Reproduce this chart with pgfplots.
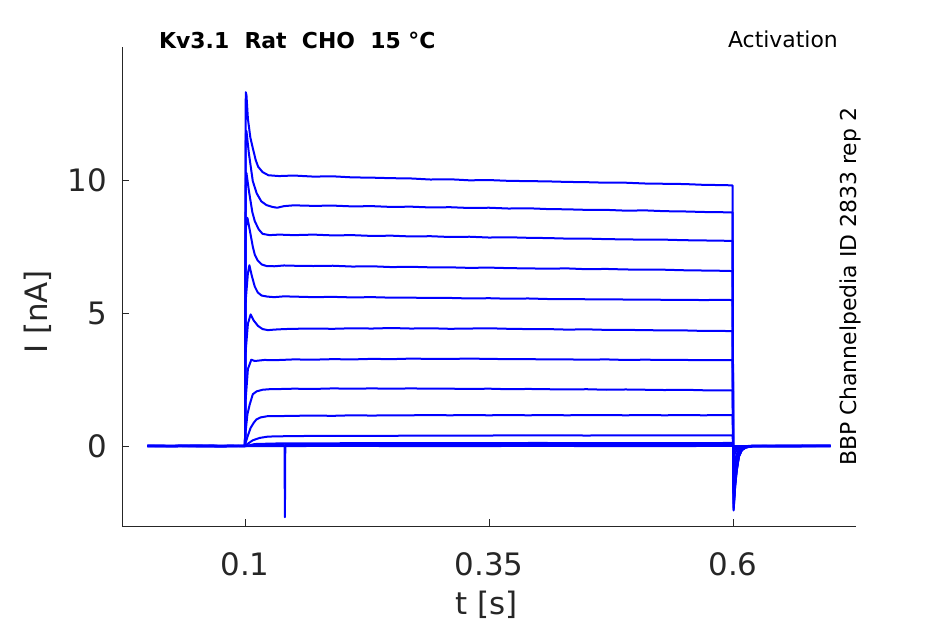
\documentclass[border=0pt]{standalone}
\usepackage{fontspec}
\setmainfont{DejaVu Sans}
\usepackage{pgfplots}
\pgfplotsset{compat=1.18}
\definecolor{axgray}{HTML}{262626}
\definecolor{trblue}{RGB}{0,0,255}
\tikzset{tr/.style={draw=trblue, line width=2bp, mark=none, line join=round}}
\begin{document}
\begin{tikzpicture}
\useasboundingbox (-122bp,-98bp) rectangle (823bp,526bp);
\begin{axis}[
  scale only axis, width=734bp, height=479bp,
  xmin=-0.026, xmax=0.726, ymin=-3, ymax=15,
  axis x line=bottom, axis y line=left,
  axis line style={-, axgray, line width=0.8bp},
  tick align=inside, major tick length=7bp,
  tick style={axgray, line width=0.8bp},
  xtick={0.1,0.35,0.6}, xticklabels={0.1,0.35,0.6},
  ytick={0,5,10}, yticklabels={0,5,10},
  /pgf/number format/assume math mode=true,
  ticklabel style={font=\fontsize{31}{36}\selectfont, text=axgray},
  xticklabel style={inner sep=0pt, anchor=north, yshift=-26bp},
  yticklabel style={inner sep=0pt, anchor=east, xshift=-15bp},
  xlabel={t [s]}, ylabel={I [nA]},
  label style={font=\fontsize{31}{36}\selectfont, text=axgray},
  xlabel style={at={(axis description cs:0.497,-0.165)}, anchor=center},
  ylabel style={at={(axis description cs:-0.1144,0.4468)}, anchor=center},
]
% T13 baseline
\addplot[tr] coordinates {(0,0.0)(0.03,0.01)(0.06,-0.01)(0.09,0.0)(0.1,0.0)(0.1008,0.0)(0.2,0.01)(0.3,0.0)(0.4,0.01)(0.5,0.0)(0.5995,0.01)(0.6002,0)(0.65,0.0)(0.7,0.0)};
% T12 with spike
\addplot[tr] coordinates {(0,0.02)(0.04,0.01)(0.08,0.02)(0.1,0.01)(0.1008,0.02)(0.12,0.04)(0.1405,0.04)(0.1409,-2.67)(0.1413,0.04)(0.2,0.05)(0.3,0.05)(0.4,0.06)(0.5,0.05)(0.5995,0.06)(0.6002,0)(0.6006,-0.1)(0.606,-0.02)(0.62,0.02)(0.7,0.02)};
% T11
\addplot[tr] coordinates {(0,0.01)(0.05,0.02)(0.1,0.01)(0.1008,0.0)(0.11,0.08)(0.13,0.1)(0.2,0.11)(0.3,0.11)(0.4,0.12)(0.5,0.11)(0.5995,0.12)(0.6002,0)(0.6006,-0.2)(0.6037,-0.08)(0.609,-0.01)(0.62,0.01)(0.7,0.01)};
% T10
\addplot[tr] coordinates {(0,0.0)(0.05,0.01)(0.1,0.0)(0.1008,0.03)(0.104,0.12)(0.108,0.22)(0.115,0.31)(0.1236,0.36)(0.135,0.37)(0.15,0.38)(0.2,0.39)(0.25,0.39)(0.3,0.4)(0.35,0.4)(0.4,0.41)(0.45,0.4)(0.5,0.41)(0.55,0.41)(0.5995,0.41)(0.6002,0)(0.6006,-0.4)(0.6022,-0.25)(0.6037,-0.16)(0.606,-0.07)(0.609,-0.02)(0.62,0.0)(0.7,0.01)};
% T9
\addplot[tr] coordinates {(0,0.01)(0.05,0.0)(0.1,0.01)(0.1008,0.15)(0.103,0.4)(0.1058,0.69)(0.109,0.88)(0.1116,1.0)(0.116,1.08)(0.1236,1.13)(0.135,1.13)(0.15,1.14)(0.17,1.15)(0.19,1.14)(0.21,1.16)(0.23,1.15)(0.25,1.16)(0.27,1.16)(0.29,1.17)(0.31,1.16)(0.33,1.17)(0.35,1.16)(0.37,1.17)(0.39,1.16)(0.41,1.17)(0.43,1.16)(0.45,1.17)(0.47,1.17)(0.49,1.16)(0.51,1.17)(0.53,1.16)(0.55,1.17)(0.57,1.16)(0.59,1.17)(0.5995,1.17)(0.6002,0)(0.6006,-0.8)(0.6022,-0.5)(0.6037,-0.31)(0.606,-0.13)(0.609,-0.05)(0.613,-0.02)(0.62,0.0)(0.7,0.0)};
% T8
\addplot[tr] coordinates {(0,0.0)(0.05,0.01)(0.1,0.0)(0.1008,0.6)(0.1025,1.2)(0.1048,1.56)(0.108,1.95)(0.112,2.06)(0.118,2.12)(0.125,2.14)(0.14,2.15)(0.15,2.16)(0.17,2.15)(0.19,2.17)(0.21,2.16)(0.23,2.17)(0.25,2.16)(0.27,2.17)(0.29,2.16)(0.31,2.16)(0.33,2.15)(0.35,2.16)(0.37,2.14)(0.39,2.15)(0.41,2.14)(0.43,2.13)(0.45,2.14)(0.47,2.12)(0.49,2.13)(0.51,2.12)(0.53,2.11)(0.55,2.12)(0.57,2.1)(0.59,2.1)(0.5995,2.1)(0.6002,0)(0.6006,-1.2)(0.6022,-0.74)(0.6037,-0.47)(0.606,-0.2)(0.609,-0.07)(0.613,-0.02)(0.62,0.0)(0.7,0.01)};
% T7
\addplot[tr] coordinates {(0,0.01)(0.05,0.0)(0.1,0.01)(0.1008,1.8)(0.103,2.9)(0.1065,3.25)(0.11,3.2)(0.115,3.22)(0.12,3.24)(0.13,3.23)(0.15,3.26)(0.17,3.25)(0.19,3.27)(0.21,3.26)(0.23,3.28)(0.25,3.27)(0.27,3.29)(0.29,3.28)(0.31,3.28)(0.33,3.29)(0.35,3.28)(0.37,3.27)(0.39,3.27)(0.41,3.26)(0.43,3.26)(0.45,3.25)(0.47,3.26)(0.49,3.24)(0.51,3.25)(0.53,3.24)(0.55,3.24)(0.57,3.23)(0.59,3.23)(0.5995,3.23)(0.6002,0)(0.6006,-1.5)(0.6022,-0.93)(0.6037,-0.59)(0.606,-0.25)(0.609,-0.09)(0.613,-0.03)(0.62,0.0)(0.7,0.0)};
% T6
\addplot[tr] coordinates {(0,0.0)(0.05,0.01)(0.1,0.0)(0.1008,3.6)(0.103,4.6)(0.1058,4.95)(0.109,4.72)(0.1133,4.52)(0.118,4.4)(0.1236,4.36)(0.13,4.38)(0.14,4.4)(0.15,4.41)(0.17,4.42)(0.19,4.41)(0.21,4.43)(0.23,4.42)(0.25,4.44)(0.27,4.42)(0.29,4.43)(0.31,4.41)(0.33,4.42)(0.35,4.43)(0.37,4.41)(0.39,4.4)(0.41,4.4)(0.43,4.38)(0.45,4.39)(0.47,4.37)(0.49,4.37)(0.51,4.36)(0.53,4.35)(0.55,4.35)(0.57,4.33)(0.59,4.33)(0.5995,4.32)(0.6002,0)(0.6006,-1.8)(0.6022,-1.12)(0.6037,-0.7)(0.606,-0.3)(0.609,-0.11)(0.613,-0.04)(0.62,0.0)(0.7,0.01)};
% T5
\addplot[tr] coordinates {(0,0.01)(0.05,0.0)(0.1,0.01)(0.1008,5.5)(0.103,6.5)(0.1045,6.8)(0.107,6.4)(0.11,6.0)(0.113,5.78)(0.117,5.66)(0.123,5.62)(0.13,5.6)(0.14,5.63)(0.15,5.62)(0.17,5.6)(0.19,5.61)(0.21,5.59)(0.23,5.6)(0.25,5.58)(0.27,5.58)(0.29,5.57)(0.31,5.57)(0.33,5.55)(0.35,5.56)(0.37,5.54)(0.39,5.55)(0.41,5.53)(0.43,5.53)(0.45,5.52)(0.47,5.52)(0.49,5.51)(0.51,5.51)(0.53,5.5)(0.55,5.5)(0.57,5.49)(0.59,5.5)(0.5995,5.49)(0.6002,0)(0.6006,-2.0)(0.6022,-1.24)(0.6037,-0.78)(0.606,-0.33)(0.609,-0.12)(0.613,-0.04)(0.62,0.0)(0.7,0.0)};
% T4
\addplot[tr] coordinates {(0,0.0)(0.05,0.01)(0.1,0.0)(0.1008,8.2)(0.1025,8.58)(0.105,8.1)(0.108,7.5)(0.11,7.2)(0.113,6.98)(0.117,6.83)(0.122,6.77)(0.13,6.76)(0.14,6.79)(0.15,6.78)(0.17,6.77)(0.19,6.78)(0.21,6.75)(0.23,6.76)(0.25,6.73)(0.27,6.74)(0.29,6.72)(0.31,6.72)(0.33,6.7)(0.35,6.71)(0.37,6.69)(0.39,6.68)(0.41,6.67)(0.43,6.68)(0.45,6.65)(0.47,6.66)(0.49,6.64)(0.51,6.63)(0.53,6.63)(0.55,6.61)(0.57,6.6)(0.59,6.59)(0.5995,6.58)(0.6002,0)(0.6006,-2.15)(0.6022,-1.33)(0.6037,-0.84)(0.606,-0.35)(0.609,-0.13)(0.613,-0.04)(0.62,0.0)(0.7,0.01)};
% T3
\addplot[tr] coordinates {(0,0.01)(0.05,0.0)(0.1,0.01)(0.1008,10.0)(0.1015,10.27)(0.104,9.6)(0.1075,8.8)(0.11,8.46)(0.114,8.15)(0.118,7.98)(0.125,7.93)(0.135,7.95)(0.15,7.93)(0.17,7.95)(0.19,7.92)(0.21,7.93)(0.23,7.9)(0.25,7.91)(0.27,7.88)(0.29,7.89)(0.31,7.86)(0.33,7.87)(0.35,7.84)(0.37,7.85)(0.39,7.83)(0.41,7.82)(0.43,7.8)(0.45,7.8)(0.47,7.78)(0.49,7.77)(0.51,7.76)(0.53,7.76)(0.55,7.74)(0.57,7.73)(0.59,7.72)(0.5995,7.71)(0.6002,0)(0.6006,-2.3)(0.6022,-1.43)(0.6037,-0.9)(0.606,-0.38)(0.609,-0.14)(0.613,-0.05)(0.62,0.0)(0.7,0.0)};
% T2
\addplot[tr] coordinates {(0,0.0)(0.03,0.01)(0.06,0.0)(0.09,0.01)(0.1,0.0)(0.1008,11.7)(0.1015,11.85)(0.104,11.0)(0.108,9.96)(0.112,9.5)(0.1167,9.2)(0.122,9.06)(0.128,8.99)(0.133,8.96)(0.14,9.02)(0.15,9.05)(0.17,9.03)(0.19,9.04)(0.21,9.01)(0.23,9.02)(0.25,8.99)(0.27,9.0)(0.29,8.97)(0.31,8.98)(0.33,8.95)(0.35,8.96)(0.37,8.93)(0.39,8.94)(0.41,8.91)(0.43,8.9)(0.45,8.88)(0.47,8.88)(0.49,8.85)(0.51,8.86)(0.53,8.83)(0.55,8.82)(0.57,8.8)(0.59,8.79)(0.5995,8.78)(0.6002,0)(0.6006,-2.38)(0.6022,-1.48)(0.6037,-0.93)(0.606,-0.39)(0.609,-0.15)(0.613,-0.05)(0.62,0.01)(0.66,0.0)(0.7,0.01)};
% T1
\addplot[tr] coordinates {(0,0.01)(0.02,0.0)(0.05,0.02)(0.08,0.0)(0.1,0.01)(0.1008,13.3)(0.1015,13.2)(0.103,12.3)(0.1055,11.6)(0.108,11.2)(0.111,10.75)(0.1135,10.5)(0.118,10.3)(0.124,10.18)(0.135,10.15)(0.15,10.17)(0.17,10.13)(0.19,10.14)(0.21,10.1)(0.23,10.09)(0.25,10.07)(0.27,10.06)(0.29,10.02)(0.31,10.03)(0.33,9.99)(0.35,10.0)(0.37,9.97)(0.39,9.96)(0.41,9.95)(0.43,9.93)(0.45,9.92)(0.47,9.9)(0.49,9.9)(0.51,9.87)(0.53,9.86)(0.55,9.85)(0.57,9.82)(0.59,9.81)(0.5995,9.8)(0.6002,0)(0.6006,-2.42)(0.6022,-1.5)(0.6037,-0.94)(0.606,-0.4)(0.609,-0.15)(0.613,-0.05)(0.62,0.0)(0.65,0.02)(0.7,0.01)};
\end{axis}
\node[anchor=west, inner sep=0pt, font=\fontsize{22}{26}\selectfont\bfseries] at (37bp,486bp) {Kv3.1~~Rat~~CHO~~15~°C};
\node[anchor=east, inner sep=0pt, font=\fontsize{22}{26}\selectfont] at (716bp,487bp) {Activation};
\node[rotate=90, anchor=center, inner sep=0pt, font=\fontsize{22}{26}\selectfont] at (728bp,239bp) {BBP Channelpedia ID 2833 rep 2};
\end{tikzpicture}
\end{document}
